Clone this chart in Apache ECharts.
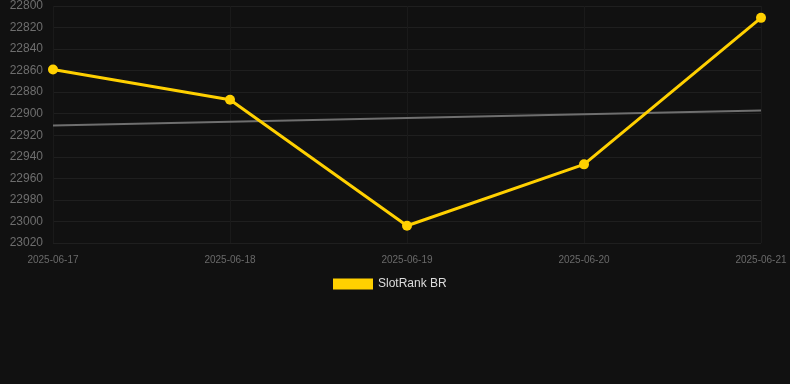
<!DOCTYPE html>
<html>
<head>
<meta charset="utf-8">
<script src="https://cdn.jsdelivr.net/npm/echarts@6/dist/echarts.min.js"></script>
<style>
  html, body { margin: 0; padding: 0; background: #111111; }
  #chart { width: 790px; height: 384px; }
</style>
</head>
<body>
<div id="chart"></div>
<script>
// Données
const dates = ["2025-06-17", "2025-06-18", "2025-06-19", "2025-06-20", "2025-06-21"];
const slotRank = [22859, 22887, 23004, 22947, 22811];
// Ligne de tendance : seulement les deux extrémités
const tendance = [22911, "-", "-", "-", 22897];

const chart = echarts.init(document.getElementById("chart"));

chart.setOption({
  backgroundColor: "#111111",
  animation: false,
  grid: {
    left: 53,
    right: 29,
    top: 6,
    bottom: 141,
  },
  legend: {
    top: 273,
    left: 328,
    itemWidth: 40,
    itemHeight: 11,
    itemGap: 10,
    data: [{ name: "SlotRank BR", icon: "rect" }],
    textStyle: {
      color: "#dddddd",
      fontSize: 12,
      fontFamily: "Liberation Sans, Arial, sans-serif",
    },
  },
  xAxis: {
    type: "category",
    data: dates,
    boundaryGap: false,
    axisLine: { show: false },
    axisTick: { show: false },
    splitLine: { show: true, lineStyle: { color: "#1a1a1a", width: 1 } },
    axisLabel: {
      color: "#6a6a6a",
      fontSize: 10,
      margin: 12,
      fontFamily: "Liberation Sans, Arial, sans-serif",
    },
  },
  yAxis: {
    type: "value",
    inverse: true,
    min: 22800,
    max: 23020,
    interval: 20,
    axisLine: { show: false },
    axisTick: { show: false },
    splitLine: { lineStyle: { color: "#1f1f1f", width: 1 } },
    axisLabel: {
      color: "#6e6e6e",
      fontSize: 12,
      margin: 10,
      formatter: (v) => String(v),
      fontFamily: "Liberation Sans, Arial, sans-serif",
    },
  },
  series: [
    {
      name: "Tendance",
      type: "line",
      data: tendance,
      connectNulls: true,
      symbol: "none",
      lineStyle: { color: "#6f6f6f", width: 2 },
      z: 1,
    },
    {
      name: "SlotRank BR",
      type: "line",
      data: slotRank,
      symbol: "circle",
      symbolSize: 10,
      itemStyle: { color: "#ffd000" },
      lineStyle: { color: "#ffd000", width: 3 },
      z: 2,
    },
  ],
});
</script>
</body>
</html>
